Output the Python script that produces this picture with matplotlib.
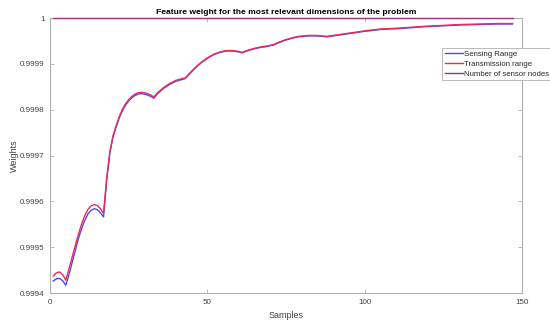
import matplotlib
matplotlib.use("Agg")
import matplotlib.pyplot as plt

plt.rcParams['font.family'] = ['Liberation Sans', 'DejaVu Sans']

# values
samples = [1, 2, 3, 4, 5, 6, 7, 8, 9, 10, 11, 12, 13, 14, 15, 16, 17,
           18, 19, 20, 21, 22, 23, 24, 25, 26, 27, 28, 29, 30, 31, 32, 33,
           34, 36, 38, 40, 42, 43, 44, 46, 48, 50, 52, 54, 56, 58, 60, 61,
           63, 65, 67, 69, 71, 73, 75, 77, 79, 82, 85, 88, 90, 92, 96, 100,
           105, 111, 115, 119, 125, 131, 137, 142, 147]

sensing = [0.999426, 0.999431, 0.999432, 0.999427, 0.999417, 0.999440, 0.999466,
           0.999492, 0.999518, 0.999540, 0.999558, 0.999572, 0.999580, 0.999584,
           0.999582, 0.999575, 0.999566,
           0.999646, 0.999705, 0.999740, 0.999762, 0.999782, 0.999798, 0.999810,
           0.999819, 0.999826, 0.999831, 0.999834, 0.999835, 0.999834, 0.999832,
           0.999829, 0.999825,
           0.999834, 0.999846, 0.999855, 0.999862, 0.999866, 0.999868, 0.999876,
           0.999890, 0.999902, 0.999912, 0.999920, 0.999925, 0.999928, 0.999928,
           0.999926, 0.999924,
           0.999929, 0.999933, 0.999936, 0.999938, 0.999941, 0.999947, 0.999952,
           0.999956, 0.999959, 0.999961, 0.999961, 0.999959, 0.999961, 0.999963,
           0.999967, 0.999971,
           0.999975, 0.999977, 0.999979, 0.999981, 0.999983, 0.999985, 0.999986,
           0.999987, 0.999987]

transmission = [0.999437, 0.999444, 0.999446, 0.999440, 0.999428, 0.999452, 0.999478,
                0.999503, 0.999528, 0.999550, 0.999568, 0.999582, 0.999590, 0.999593,
                0.999591, 0.999584, 0.999574,
                0.999650, 0.999708, 0.999743, 0.999765, 0.999785, 0.999801, 0.999813,
                0.999822, 0.999829, 0.999834, 0.999837, 0.999838, 0.999837, 0.999835,
                0.999832, 0.999828,
                0.999836, 0.999848, 0.999857, 0.999864, 0.999868, 0.999869, 0.999877,
                0.999891, 0.999903, 0.999913, 0.999921, 0.999926, 0.999929, 0.999929,
                0.999927, 0.999925,
                0.999930, 0.999934, 0.999937, 0.999939, 0.999942, 0.999948, 0.999953,
                0.999957, 0.999960, 0.999962, 0.999962, 0.999960, 0.999962, 0.999964,
                0.999968, 0.999972,
                0.999976, 0.999978, 0.999980, 0.999982, 0.999984, 0.999986, 0.999987,
                0.999988, 0.999988]

nodes_x = [1, 147]
nodes = [1.0, 1.0]

fig = plt.figure(figsize=(5.5, 3.22), dpi=100)
ax = fig.add_axes([0.091, 0.090, 0.858, 0.854])

ax.plot(samples, sensing, color='#4a4ae6', lw=1.0, label='Sensing Range')
ax.plot(samples, transmission, color='#f0285a', lw=1.0, label='Transmission range')
ax.plot(nodes_x, nodes, color='#a0337f', lw=1.0, label='Number of sensor nodes', clip_on=False, zorder=5)

ax.set_xlim(0, 150)
ax.set_ylim(0.9994, 1.0)
ax.set_xticks([0, 50, 100, 150])
ax.set_yticks([0.9994, 0.9995, 0.9996, 0.9997, 0.9998, 0.9999, 1.0])
ax.set_yticklabels(['0.9994', '0.9995', '0.9996', '0.9997', '0.9998', '0.9999', '1'])

for s in ax.spines.values():
    s.set_color('#b0b0b0')
    s.set_linewidth(0.8)
ax.tick_params(direction='in', length=3, width=0.6, color='#b0b0b0',
               labelsize=5.8, labelcolor='#404040', top=True, right=True, pad=4)

ax.set_xlabel('Samples', fontsize=6.5, color='#404040', labelpad=4)
ax.set_ylabel('Weights', fontsize=6.5, color='#404040', labelpad=0.5)
ax.set_title('Feature weight for the most relevant dimensions of the problem',
             fontsize=6.1, fontweight='bold', pad=3)

leg = ax.legend(loc='upper left', bbox_to_anchor=(0.831, 0.891), fontsize=5.6,
                handlelength=2.3, handletextpad=0.1, borderpad=0.35,
                labelspacing=0.3, borderaxespad=0, fancybox=False, framealpha=1)
leg.get_frame().set_edgecolor('#b0b0b0')
leg.get_frame().set_linewidth(0.6)
for t in leg.get_texts():
    t.set_color('#262626')

fig.savefig('out.png', dpi=100)
